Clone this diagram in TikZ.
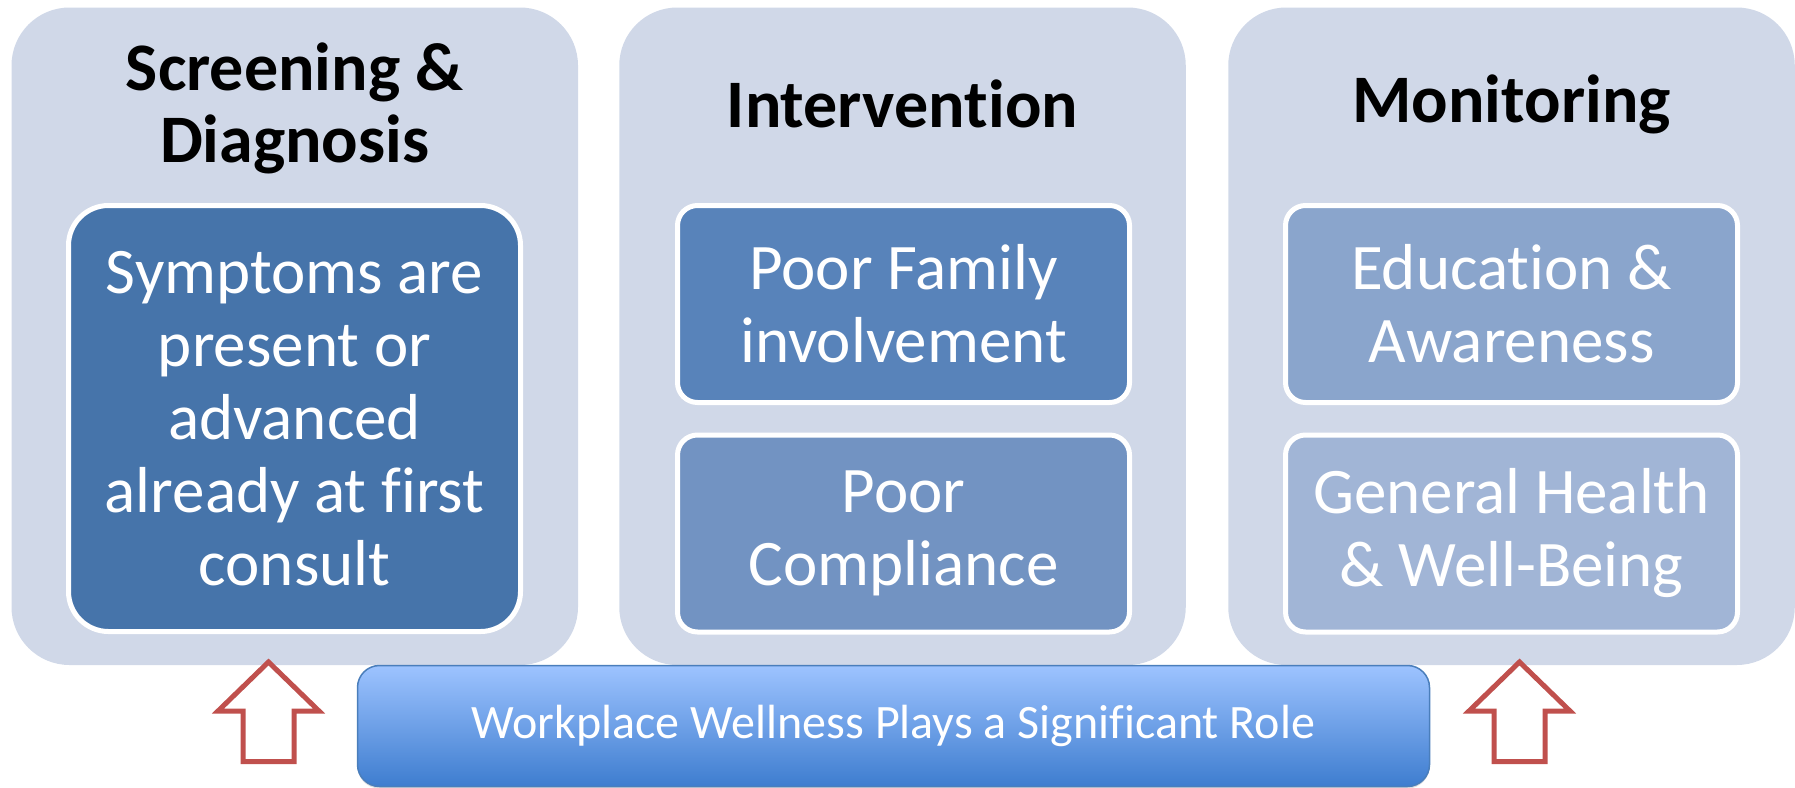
\documentclass[tikz,border=0pt]{standalone}
\usepackage{fontspec}
\setmainfont{Carlito}[Ligatures={NoCommon,NoRequired,NoContextual}]
\usetikzlibrary{shadows}
\definecolor{outerfill}{HTML}{D0D8E8}
\definecolor{cLeft}{HTML}{4674AA}
\definecolor{cMidTop}{HTML}{5883BA}
\definecolor{cMidBot}{HTML}{7293C2}
\definecolor{cRightTop}{HTML}{8AA5CC}
\definecolor{cRightBot}{HTML}{A1B5D6}
\definecolor{arrowred}{HTML}{C0504D}
\definecolor{bannerTop}{HTML}{9DC3FF}
\definecolor{bannerBot}{HTML}{3E7DCF}
\definecolor{bannerLine}{HTML}{4A7EBB}
\tikzset{
  outerbox/.style={fill=outerfill, draw=none, rounded corners=58pt,
    minimum width=566.5pt, minimum height=657.5pt, inner sep=0pt},
  titletext/.style={font=\bfseries\fontsize{68}{72}\selectfont, text=black, align=center, inner sep=0pt},
  innerbox/.style={draw=white, line width=5pt, text=white, align=center, inner sep=0pt,
    minimum width=452pt, font=\fontsize{65}{73}\selectfont},
  smallbox/.style={innerbox, rounded corners=20pt, minimum height=197pt},
  bigbox/.style={innerbox, rounded corners=40pt, minimum height=426pt},
  banner/.style={draw=bannerLine, line width=1.5pt, rounded corners=22pt,
    top color=bannerTop, bottom color=bannerBot,
    minimum width=1072pt, minimum height=121pt, inner sep=0pt,
    text=white, font=\fontsize{48}{52}\selectfont,
    drop shadow={shadow xshift=0pt, shadow yshift=-2pt, opacity=0.25}},
  blockarrow/.style={draw=arrowred, fill=white, line width=5pt, miter limit=10}
}
\begin{document}
\begin{tikzpicture}[x=1pt, y=-1pt]
\useasboundingbox (0,0) rectangle (1795,787);
% outer columns
\node[outerbox] (col1) at (294.75,336.25) {};
\node[outerbox] (col2) at (902.5,336.25) {};
\node[outerbox] (col3) at (1511.5,336.25) {};
% titles
\node[titletext] (t1) at (294.75,108.5) {Screening \&\\Diagnosis};
\node[titletext] (t2) at (902.5,104) {Interven\kern0pt t\kern0pt ion};
\node[titletext] (t3) at (1511.5,104) {Monitoring};
% inner boxes
\node[bigbox, fill=cLeft] (b1) at (294.5,418.5) {Symptoms are\\present or\\advanced\\already at f\kern0pt irst\\consult};
\node[smallbox, fill=cMidTop] (b2) at (903.5,304) {Poor Family\\involvement};
\node[smallbox, fill=cMidBot] (b3) at (903.5,533.5) {Poor\\Compliance};
\node[smallbox, fill=cRightTop] (b4) at (1511.5,304) {Educat\kern0pt ion \&\\Awareness};
\node[smallbox, fill=cRightBot] (b5) at (1511.5,533.5) {General Health\\\& Well-Being};
% banner
\node[banner] (ban) at (893.5,726) {\raisebox{-5pt}{Workplace Wellness Plays a Signif\kern0pt icant Role}};
% block arrows
\coordinate (a1) at (268.5,662);
\coordinate (a2) at (1519.5,662);
\foreach \c in {a1,a2}{
  \draw[blockarrow] (\c) -- ++(-50.5,49) -- ++(25,0) -- ++(0,50.5) -- ++(51,0)
    -- ++(0,-50.5) -- ++(25,0) -- cycle;
}
\end{tikzpicture}
\end{document}
